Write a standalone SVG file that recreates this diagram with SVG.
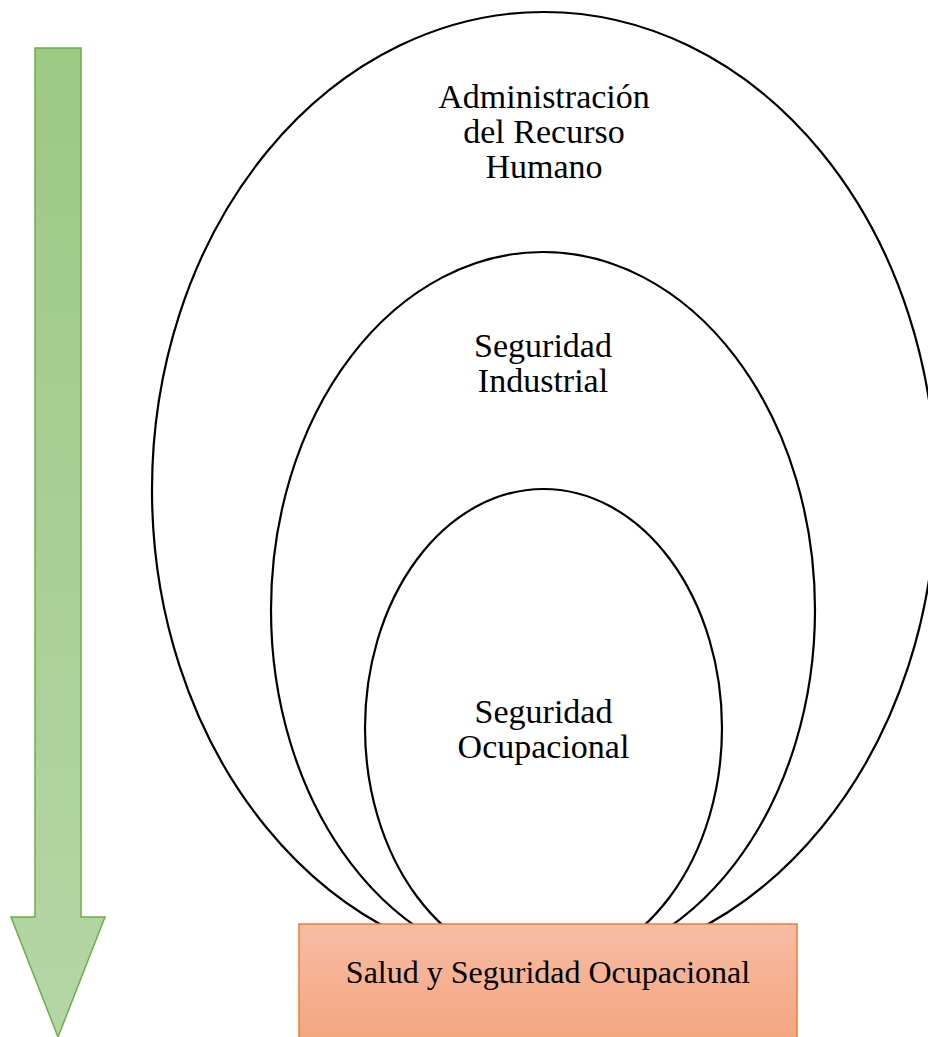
<svg xmlns="http://www.w3.org/2000/svg" width="928" height="1037" viewBox="0 0 928 1037">
<defs>
<linearGradient id="gArrow" x1="0" y1="0" x2="0" y2="1">
<stop offset="0" stop-color="#9CC983"/>
<stop offset="1" stop-color="#B5D6A7"/>
</linearGradient>
<linearGradient id="gBox" x1="0" y1="0" x2="0" y2="1">
<stop offset="0" stop-color="#F7BCA4"/>
<stop offset="1" stop-color="#F4A57F"/>
</linearGradient>
<style>
.ell{fill:none;stroke:#000;stroke-width:2.2}
.t{font-family:"Liberation Serif","Times New Roman",serif;font-size:34px;fill:#000;text-anchor:middle}
.b{font-size:32px}
</style>
</defs>
<rect width="928" height="1037" fill="#fff"/>
<g id="arrow">
<polygon points="35,48 81,48 81,917 105,917 58,1037 11,917 35,917" fill="url(#gArrow)" stroke="#70AD47" stroke-width="1.5"/>
</g>
<g id="outer">
<ellipse class="ell" cx="544" cy="490" rx="392" ry="478"/>
<text class="t" x="544" y="108">Administración</text>
<text class="t" x="544" y="143">del Recurso</text>
<text class="t" x="544" y="178">Humano</text>
</g>
<g id="middle">
<ellipse class="ell" cx="543" cy="610" rx="272" ry="358"/>
<text class="t" x="543" y="357">Seguridad</text>
<text class="t" x="543" y="392">Industrial</text>
</g>
<g id="inner">
<ellipse class="ell" cx="543.5" cy="728" rx="178.5" ry="239"/>
<text class="t" x="543.5" y="723">Seguridad</text>
<text class="t" x="543.5" y="758">Ocupacional</text>
</g>
<g id="box">
<rect x="299" y="924" width="498" height="120" fill="url(#gBox)" stroke="#ED7D31" stroke-width="1.5"/>
<text class="t b" x="548" y="983">Salud y Seguridad Ocupacional</text>
</g>
<g id="connectors"></g>
</svg>
